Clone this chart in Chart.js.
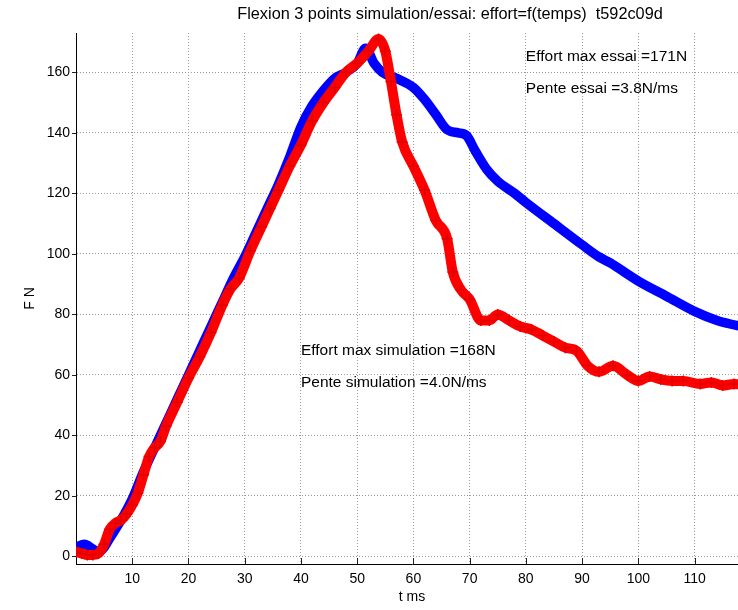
<!DOCTYPE html>
<html>
<head>
<meta charset="utf-8">
<script src="https://cdn.jsdelivr.net/npm/chart.js@4.4.0/dist/chart.umd.min.js"></script>
<style>
html, body { margin: 0; padding: 0; overflow: hidden; background: #fff; }
#wrap { width: 760px; height: 610px; }
</style>
</head>
<body>
<div id="wrap"><canvas id="flexionChart" width="760" height="610"></canvas></div>
<script>
// simulation (blue)
const tSim = [0, 1.5, 3, 4, 5, 6, 8, 10, 12, 14, 16, 18, 20, 22, 24, 26, 28, 30, 32, 34, 36, 38, 40, 42, 44, 46, 48, 50, 51.5, 53, 54.5, 57, 60, 62, 64, 66, 68, 69.5, 71, 73, 75, 78, 80, 85, 90, 93, 95, 100, 105, 110, 114, 119.5];
const fSim = [3, 4, 2.5, 1.5, 3, 6, 12, 19, 28, 36, 44, 52, 60, 68, 76, 84, 92, 99, 107, 115, 123, 132, 142, 149, 154, 158, 160, 163, 168, 163, 160, 158, 155, 151, 146, 141, 140, 139, 134, 128, 124, 120, 117, 110, 103, 99, 97, 91, 86, 81, 78, 75.5];

// essai (red)
const tExp = [0, 1, 2, 3, 4, 5, 6, 7, 8, 9, 10, 11, 12, 13, 14, 15, 16, 18, 20, 22, 24, 26, 27.5, 29, 31, 33, 34.5, 36, 38, 40, 42, 44, 46, 48, 50, 52, 53.8, 55, 56, 57, 58, 60, 62, 64, 66, 67, 68.5, 70, 72, 73.5, 75, 77, 79, 81, 83, 85, 87, 89, 91, 93, 95.5, 98, 100, 102, 104, 106, 108, 111, 113, 115, 117, 119.5];
const fExp = [1.5, 1, 0.5, 0.5, 1, 4, 9, 11, 12, 14, 17, 21, 27, 33, 36, 38, 43, 51, 59, 66, 74, 83, 88.5, 92, 101, 109, 115, 121, 129, 136, 144, 150, 155, 160, 163, 167, 171, 167, 157, 146, 137, 129, 121, 111, 105, 94, 88, 85, 78, 78, 80, 78, 76, 75, 73, 71, 69, 68, 63, 61, 63, 60, 58, 59.5, 58.5, 58, 58, 57, 57.5, 56.5, 57, 56.5];

const xTicks = [10, 20, 30, 40, 50, 60, 70, 80, 90, 100, 110];
const yTicks = [0, 20, 40, 60, 80, 100, 120, 140, 160];

const titleText = 'Flexion 3 points simulation/essai: effort=f(temps)  t592c09d';
// [text, t, F]
const notes = [
    ['Effort max essai =171N', 80, 165],
    ['Pente essai =3.8N/ms', 80, 154.5],
    ['Effort max simulation =168N', 40, 68],
    ['Pente simulation =4.0N/ms', 40, 57.5]
];

const FONT = '"Liberation Sans", Arial, Helvetica, sans-serif';

const toPts = (xs, ys) => xs.map((x, i) => ({ x: x, y: ys[i] }));

// titre + textes + petites graduations façon matlab
const decor = {
    id: 'decor',
    afterDraw(chart) {
        const ctx = chart.ctx;
        const xs = chart.scales.x, ys = chart.scales.y;
        const area = chart.chartArea;
        ctx.save();
        ctx.strokeStyle = '#222';
        ctx.lineWidth = 1;
        xTicks.forEach(v => {
            const px = Math.round(xs.getPixelForValue(v)) + 0.5;
            ctx.beginPath();
            ctx.moveTo(px, area.bottom);
            ctx.lineTo(px, area.bottom - 6);
            ctx.stroke();
        });
        yTicks.forEach(v => {
            const py = Math.round(ys.getPixelForValue(v)) + 0.5;
            ctx.beginPath();
            ctx.moveTo(area.left - 4, py);
            ctx.lineTo(area.left, py);
            ctx.stroke();
        });
        ctx.fillStyle = '#000';
        ctx.font = '16.3px ' + FONT;
        ctx.textAlign = 'center';
        ctx.textBaseline = 'middle';
        ctx.fillText(titleText, 450, 15);
        ctx.font = '15.5px ' + FONT;
        ctx.textAlign = 'left';
        notes.forEach(n => {
            ctx.fillText(n[0], xs.getPixelForValue(n[1]), ys.getPixelForValue(n[2]));
        });
        ctx.restore();
    }
};

const ctx = document.getElementById('flexionChart').getContext('2d');
const flexionChart = new Chart(ctx, {
    type: 'line',
    data: {
        datasets: [
            {
                label: 'essai',
                data: toPts(tExp, fExp),
                borderColor: '#ff0000',
                backgroundColor: '#ff0000',
                borderWidth: 10,
                borderCapStyle: 'round',
                borderJoinStyle: 'round',
                cubicInterpolationMode: 'monotone',
                pointStyle: 'cross',
                pointRadius: 5.5,
                pointBorderWidth: 1.5,
                pointBorderColor: '#e00000',
                fill: false,
                order: 0
            },
            {
                label: 'simulation',
                data: toPts(tSim, fSim),
                borderColor: '#0000ff',
                borderWidth: 9.5,
                borderCapStyle: 'round',
                borderJoinStyle: 'round',
                cubicInterpolationMode: 'monotone',
                pointRadius: 0,
                fill: false,
                order: 1
            }
        ]
    },
    options: {
        responsive: false,
        animation: false,
        devicePixelRatio: 1,
        layout: { padding: { top: 33, right: 12, left: 0, bottom: 0 } },
        plugins: {
            legend: { display: false },
            tooltip: { enabled: false }
        },
        scales: {
            x: {
                type: 'linear',
                min: 0,
                max: 119.5,
                afterBuildTicks: s => { s.ticks = xTicks.map(v => ({ value: v })); },
                afterFit: s => { s.height = 46; },
                ticks: { color: '#000', font: { family: FONT, size: 14 }, padding: 7, maxRotation: 0, autoSkip: false },
                grid: { color: '#9a9a9a', drawTicks: false, lineWidth: 1 },
                border: { display: true, color: '#000', width: 1, dash: [1, 2] },
                title: { display: true, text: 't ms', color: '#000', font: { family: FONT, size: 14 }, padding: { top: 0, bottom: 4 } }
            },
            y: {
                min: -2.5,
                max: 173,
                afterBuildTicks: s => { s.ticks = yTicks.map(v => ({ value: v })); },
                afterFit: s => { s.width = 76; },
                ticks: { color: '#000', font: { family: FONT, size: 14 }, padding: 6 },
                grid: { color: '#9a9a9a', drawTicks: false, lineWidth: 1 },
                border: { display: true, color: '#000', width: 1, dash: [1, 2] },
                title: { display: true, text: 'F N', color: '#000', font: { family: FONT, size: 14 }, padding: { top: 22, bottom: 0 } }
            }
        }
    },
    plugins: [decor]
});
</script>
</body>
</html>
